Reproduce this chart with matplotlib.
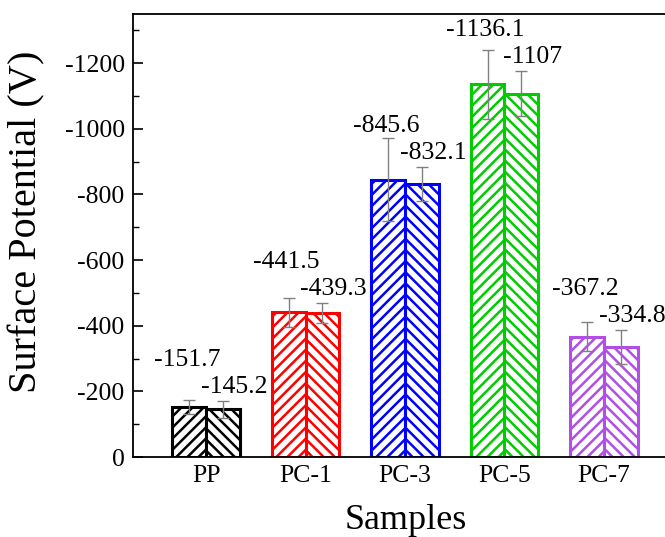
import matplotlib
matplotlib.use("Agg")
import matplotlib.pyplot as plt
from matplotlib.ticker import MultipleLocator
import numpy as np

plt.rcParams['font.family'] = ['Liberation Serif', 'DejaVu Serif']
plt.rcParams['axes.unicode_minus'] = False
plt.rcParams['hatch.linewidth'] = 1.8

# Surface potential of the samples (two measurements per sample)
samples = ["PP", "PC-1", "PC-3", "PC-5", "PC-7"]
potential_a = [-151.7, -441.5, -845.6, -1136.1, -367.2]
potential_b = [-145.2, -439.3, -832.1, -1107.0, -334.8]
error_a = [22, 44, 126, 105, 44]
error_b = [25, 30, 52, 68, 52]
colors = ["#000000", "#ff0000", "#0000ff", "#00cc00", "#b04ee6"]

fig = plt.figure(figsize=(6.65, 5.37), dpi=100)
ax = fig.add_axes([133 / 665, 1 - 457 / 537, 545 / 665, 443 / 537])

x = np.arange(len(samples))
w = 0.34

ax.bar(x - w / 2, potential_a, width=w, facecolor="white", edgecolor=colors,
       hatch="///", linewidth=2.2, zorder=2)
ax.bar(x + w / 2, potential_b, width=w, facecolor="white", edgecolor=colors,
       hatch="\\\\\\", linewidth=2.2, zorder=2)

ax.errorbar(x - w / 2, potential_a, yerr=error_a, fmt="none", ecolor="#808080",
            elinewidth=1.0, capsize=4, capthick=1.0, zorder=3)
ax.errorbar(x + w / 2, potential_b, yerr=error_b, fmt="none", ecolor="#808080",
            elinewidth=1.0, capsize=4, capthick=1.0, zorder=3)

for i in range(len(samples)):
    top_b = potential_b[i] - error_b[i]
    ax.annotate(f"{potential_b[i]:g}", xy=(x[i] + w / 2, top_b),
                xytext=(11, 8), textcoords="offset pixels",
                ha="center", va="baseline", fontsize=18.5)
    ax.annotate(f"{potential_a[i]:g}", xy=(x[i] + w / 2, top_b),
                xytext=(-36, 35), textcoords="offset pixels",
                ha="center", va="baseline", fontsize=18.5)

ax.set_xlim(-0.735, 4.745)
ax.set_ylim(0, -1350)
ax.yaxis.set_major_locator(MultipleLocator(200))
ax.yaxis.set_minor_locator(MultipleLocator(100))
ax.set_xticks(x)
ax.set_xticklabels(samples)

ax.tick_params(axis="both", which="major", direction="in", length=7, width=1.2,
               labelsize=18.5, pad=6)
ax.tick_params(axis="y", which="minor", direction="in", length=4, width=1.0)
ax.tick_params(axis="x", which="major", top=False)

for side in ["left", "bottom", "top"]:
    ax.spines[side].set_linewidth(1.3)
ax.spines["right"].set_visible(False)

ax.set_xlabel("Samples", fontsize=26, labelpad=12)
ax.set_ylabel("Surface Potential (V)", fontsize=29)
ax.yaxis.set_label_coords(-0.16, 0.53)

fig.savefig("out.png", dpi=100)
